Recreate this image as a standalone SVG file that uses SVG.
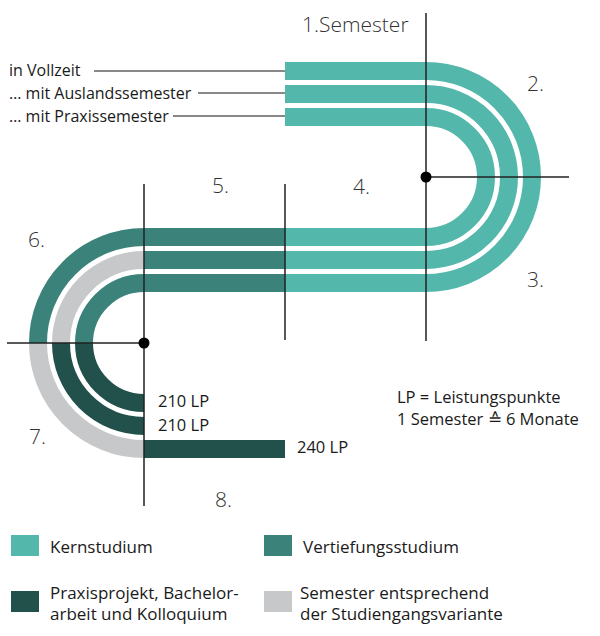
<svg xmlns="http://www.w3.org/2000/svg" width="600" height="636" viewBox="0 0 600 636">
<style>
.b{fill:none;stroke-width:18;stroke-linecap:butt}
.k{stroke:#53b7ab}
.v{stroke:#3b837a}
.p{stroke:#22514b}
.g{stroke:#c7c8ca}
.ax{stroke:#222;stroke-width:1.5;fill:none}
.ld{stroke:#888;stroke-width:2;fill:none}
.t{font-family:"Open Sans","Liberation Sans",sans-serif;fill:#1a1a1a}
.sem{font-family:"Open Sans","Liberation Sans",sans-serif;font-weight:300;fill:#333;font-size:21px}
.lbl{font-size:16px}
.lp{font-size:16.5px}
.leg{font-size:17px}
</style>
<g id="tracks">
<g id="sem1">
<path class="b k" d="M285,71H426"/>
<path class="b k" d="M285,94H426"/>
<path class="b k" d="M285,117H426"/>
</g>
<g id="sem2">
<path class="b k" d="M426,71A106,106 0 0 1 532,177"/>
<path class="b k" d="M426,94A83,83 0 0 1 509,177"/>
<path class="b k" d="M426,117A60,60 0 0 1 486,177"/>
</g>
<g id="sem3">
<path class="b k" d="M532,177A106,106 0 0 1 426,283"/>
<path class="b k" d="M509,177A83,83 0 0 1 426,260"/>
<path class="b k" d="M486,177A60,60 0 0 1 426,237"/>
</g>
<g id="sem4">
<path class="b k" d="M426,237H285"/>
<path class="b k" d="M426,260H285"/>
<path class="b k" d="M426,283H285"/>
</g>
<g id="sem5">
<path class="b v" d="M285,237H144"/>
<path class="b v" d="M285,260H144"/>
<path class="b v" d="M285,283H144"/>
</g>
<g id="sem6">
<path class="b v" d="M144,237A106,106 0 0 0 38,343"/>
<path class="b g" d="M144,260A83,83 0 0 0 61,343"/>
<path class="b v" d="M144,283A60,60 0 0 0 84,343"/>
</g>
<g id="sem7">
<path class="b g" d="M38,343A106,106 0 0 0 144,449"/>
<path class="b p" d="M61,343A83,83 0 0 0 144,426"/>
<path class="b p" d="M84,343A60,60 0 0 0 144,403"/>
</g>
<g id="sem8">
<path class="b p" d="M144,449H285"/>
</g>
</g>
<g id="connectors">
<path class="ld" d="M94,71H285M198,93H285M173,116H285"/>
<path class="ax" d="M426,13V341M285,184V340M144,184V506M426,177H569M7,343H144"/>
<circle cx="426" cy="177" r="5.5" fill="#000"/>
<circle cx="144" cy="343" r="5.5" fill="#000"/>
</g>
<g id="labels">
<text class="t lbl" x="9" y="76">in Vollzeit</text>
<text class="t lbl" x="9" y="99">… mit Auslandssemester</text>
<text class="t lbl" x="9" y="122">… mit Praxissemester</text>
<text class="sem" x="302" y="32">1.Semester</text>
<text class="sem" x="527" y="91">2.</text>
<text class="sem" x="527" y="287">3.</text>
<text class="sem" x="353" y="194">4.</text>
<text class="sem" x="212" y="193">5.</text>
<text class="sem" x="28" y="247">6.</text>
<text class="sem" x="29" y="444">7.</text>
<text class="sem" x="215" y="507">8.</text>
<text class="t lp" x="158" y="407">210 LP</text>
<text class="t lp" x="158" y="431">210 LP</text>
<text class="t lp" x="297" y="453">240 LP</text>
<text class="t lp" x="397" y="403">LP = Leistungspunkte</text>
<text class="t lp" x="397" y="425">1 Semester ≙ 6 Monate</text>
</g>
<g id="legend">
<g id="leg-kern"><rect x="11" y="535" width="28" height="21" fill="#53b7ab"/><text class="t leg" x="50" y="553">Kernstudium</text></g>
<g id="leg-vert"><rect x="264" y="535" width="28" height="21" fill="#3b837a"/><text class="t leg" x="303" y="553">Vertiefungsstudium</text></g>
<g id="leg-prax"><rect x="11" y="591" width="28" height="21" fill="#22514b"/><text class="t leg" x="50" y="599">Praxisprojekt, Bachelor-<tspan x="50" dy="21">arbeit und Kolloquium</tspan></text></g>
<g id="leg-grey"><rect x="264" y="591" width="28" height="21" fill="#c7c8ca"/><text class="t leg" x="300" y="599">Semester entsprechend<tspan x="300" dy="21">der Studiengangsvariante</tspan></text></g>
</g>
</svg>
